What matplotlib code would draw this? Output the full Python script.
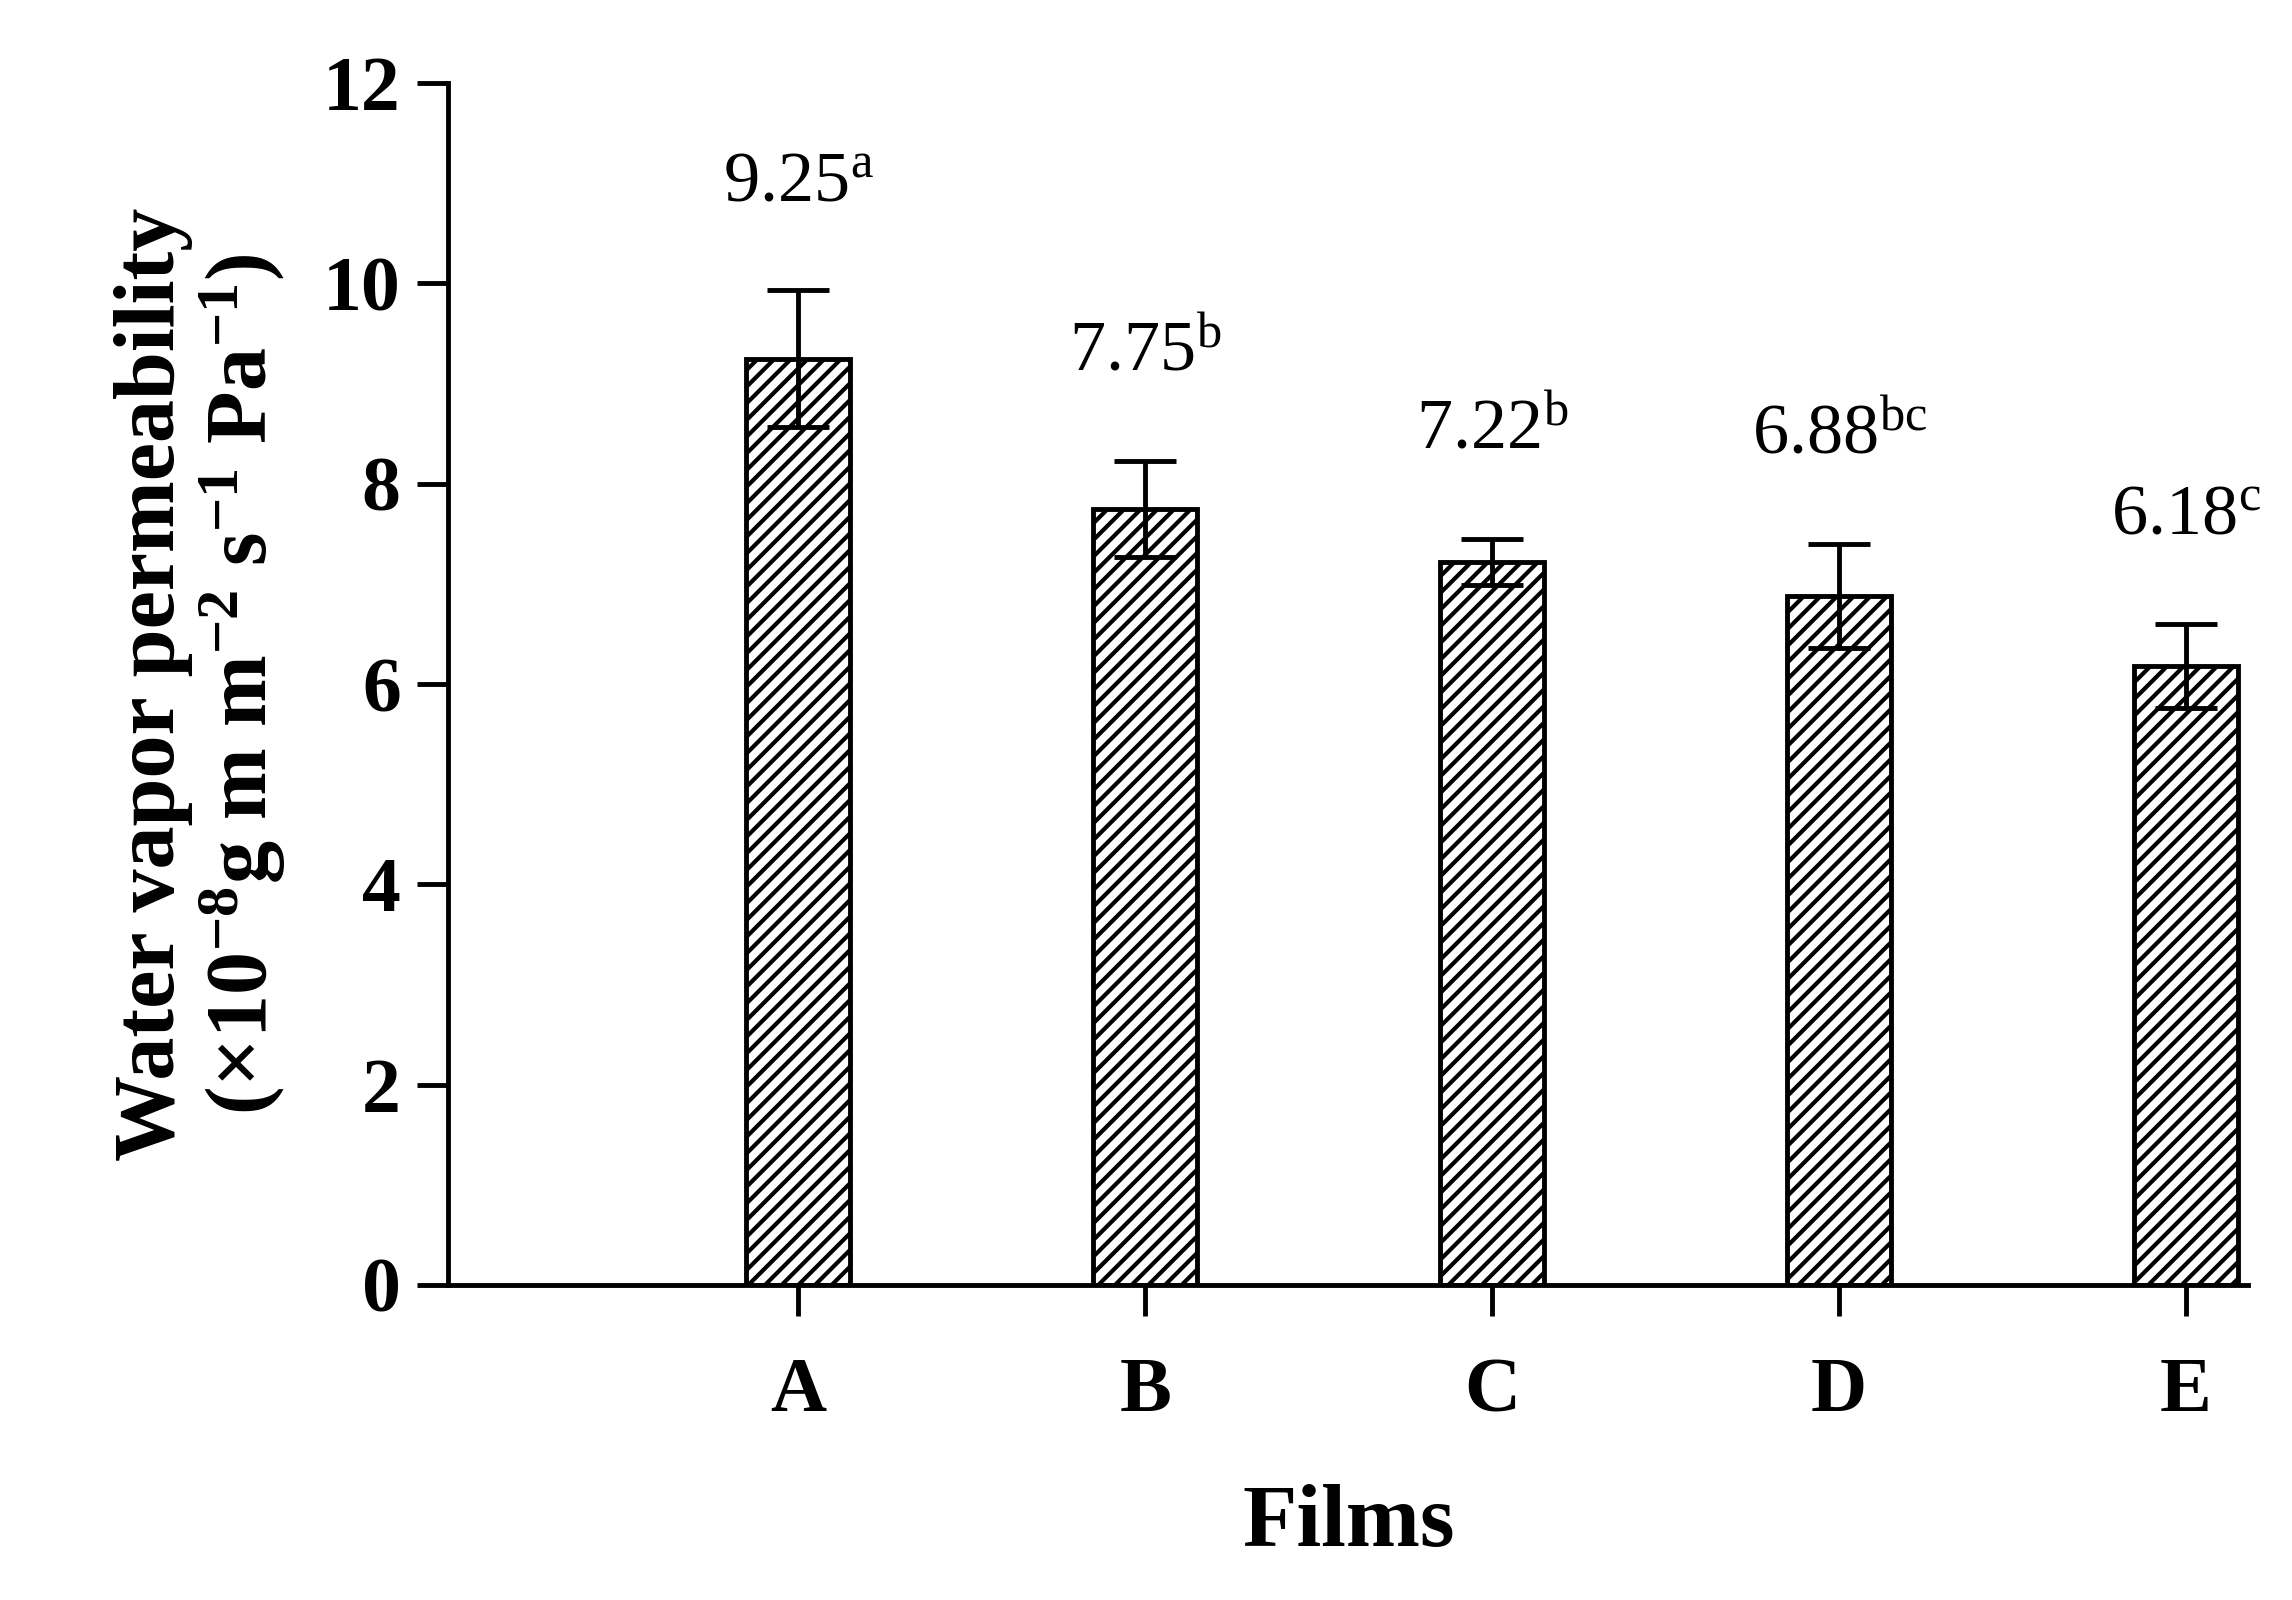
import matplotlib
matplotlib.use("Agg")
import matplotlib.pyplot as plt

films = ["A", "B", "C", "D", "E"]
wvp = [9.25, 7.75, 7.22, 6.88, 6.18]
err = [0.68, 0.48, 0.23, 0.52, 0.42]
letters = ["a", "b", "b", "bc", "c"]

plt.rcParams['font.family'] = ['Liberation Serif', 'DejaVu Serif']
plt.rcParams['mathtext.fontset'] = 'custom'
plt.rcParams['mathtext.rm'] = 'Liberation Serif'
plt.rcParams['mathtext.it'] = 'Liberation Serif:italic'
plt.rcParams['mathtext.bf'] = 'Liberation Serif:bold'
plt.rcParams['hatch.linewidth'] = 3.0
fig = plt.figure(figsize=(22.92, 16), dpi=100)
ax = fig.add_axes([0.1955, 0.197, 0.7855, 0.751])
x = range(len(films))
ax.bar(x, wvp, width=0.3, color='white', edgecolor='black', linewidth=3.5, hatch='//', zorder=2)
ax.errorbar(x, wvp, yerr=err, fmt='none', ecolor='black', elinewidth=3.5, capsize=22, capthick=3.5, zorder=3)
for i, (v, e, l) in enumerate(zip(wvp, err, letters)):
    ax.text(i, v + e + 0.75, f"{v:.2f}$^{{\\mathrm{{{l}}}}}$", ha='center', va='bottom', fontsize=52)
ax.set_xlim(-1.01, 4.18)
ax.set_ylim(0, 12)
ax.set_yticks(range(0, 13, 2))
ax.set_xticks(list(x))
ax.set_xticklabels(films)
for s in ['top', 'right']:
    ax.spines[s].set_visible(False)
for s in ['left', 'bottom']:
    ax.spines[s].set_linewidth(3.5)
ax.tick_params(direction='out', length=22, width=3.5, labelsize=56, pad=12)
for lab in ax.get_xticklabels() + ax.get_yticklabels():
    lab.set_fontweight('bold')
ax.tick_params(axis='x', pad=30)
ax.set_xlabel("Films", fontsize=64, fontweight='bold', labelpad=40)
ax.set_ylabel("Water vapor permeability\n(×10$^{\\mathbf{-8}}$g m m$^{\\mathbf{-2}}$ s$^{\\mathbf{-1}}$ Pa$^{\\mathbf{-1}}$)",
              fontsize=62, fontweight='bold', labelpad=25, linespacing=1.05)
fig.savefig("out.png", dpi=100)
